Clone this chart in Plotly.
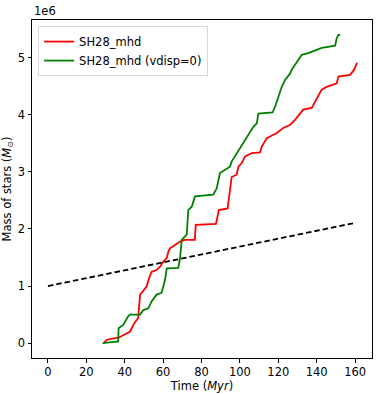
import plotly.graph_objects as go

# Red series: SH28_mhd (time in Myr, mass in units of 1e6 Msun)
red_t = [29, 30.7, 37, 40, 42.7, 45, 47, 48, 49.7, 51.4, 52.3, 54, 56.6, 58.4, 60.1, 61.9, 62.7, 63.6,
         66.2, 68.8, 71.4, 76.5, 77, 87.5, 88, 89, 93.6, 94.8, 95.7, 98.3, 99.2, 100.9, 102.7, 106.2,
         110.5, 111.3, 114, 115.7, 119.2, 122.6, 126, 128.7, 133, 137.4, 140, 142.6, 145.2, 150.4,
         151.3, 157.4, 159.5, 161]
red_m = [0, 0.06, 0.1, 0.15, 0.2, 0.35, 0.44, 0.85, 0.93, 0.99, 1.1, 1.25, 1.28, 1.34, 1.43, 1.49, 1.6, 1.66,
         1.72, 1.78, 1.81, 1.81, 2.07, 2.09, 2.16, 2.33, 2.36, 2.74, 2.91, 2.95, 3.09, 3.15, 3.27, 3.33,
         3.34, 3.44, 3.59, 3.62, 3.68, 3.77, 3.82, 3.91, 4.09, 4.12, 4.29, 4.44, 4.49, 4.55,
         4.67, 4.70, 4.79, 4.91]

# Green series: SH28_mhd (vdisp=0)
green_t = [28.5, 36.6, 36.8, 39.2, 41.8, 42.7, 48, 49.7, 52.3, 54, 56.6, 59.2, 61, 61.9, 67.9, 68.8, 69.7,
           71.4, 72.3, 73.1, 74.9, 76.6, 86.1, 87.9, 89.6, 94.8, 95.7, 107, 108.8, 109.6, 117, 118.3,
           120, 121.8, 123.5, 126.1, 127, 129.6, 132.2, 135.6, 138.2, 140.9, 142.6, 149.6, 150.4,
           151.3, 152.2]
green_m = [0, 0.03, 0.26, 0.32, 0.47, 0.5, 0.5, 0.58, 0.61, 0.73, 0.85, 0.88, 1.11, 1.31, 1.32, 1.49, 1.81,
           1.87, 1.90, 2.33, 2.39, 2.57, 2.6, 2.71, 2.98, 3.09, 3.18, 3.79, 3.85, 4.02, 4.04, 4.14,
           4.30, 4.49, 4.61, 4.72, 4.79, 4.93, 5.05, 5.08, 5.11, 5.14, 5.17, 5.21, 5.34,
           5.40, 5.40]

# Reference dashed line
ref_t = [0, 159]
ref_m = [1.0, 2.1]

scale = 1e6
x_ticks = [0, 20, 40, 60, 80, 100, 120, 140, 160]
y_ticks = [0, 1, 2, 3, 4, 5]
y_ticklabels = ["0", "1", "2", "3", "4", "5"]

fig = go.Figure()
fig.add_trace(go.Scatter(x=red_t, y=[v * scale for v in red_m], mode="lines",
                         line=dict(color="#ff0000", width=1.8), name="SH28_mhd"))
fig.add_trace(go.Scatter(x=green_t, y=[v * scale for v in green_m], mode="lines",
                         line=dict(color="#008000", width=1.8), name="SH28_mhd (vdisp=0)"))
fig.add_trace(go.Scatter(x=ref_t, y=[v * scale for v in ref_m], mode="lines",
                         line=dict(color="black", width=1.8, dash="5.5px,3px"), showlegend=False))

FS = 11.5
axis_common = dict(showline=True, linecolor="black", linewidth=1, mirror=True, showgrid=False,
                   zeroline=False, ticks="outside", ticklen=3.5, tickcolor="black",
                   tickfont=dict(size=FS, color="black"))

fig.update_layout(
    width=376, height=394,
    margin=dict(l=32, r=4, t=20, b=36),
    paper_bgcolor="white", plot_bgcolor="white",
    font=dict(family="DejaVu Sans", size=FS, color="black"),
    xaxis=dict(range=[-8.3, 168.8], tickvals=x_ticks,
               title=dict(text="Time (<i>Myr</i>)", font=dict(size=FS), standoff=2), **axis_common),
    yaxis=dict(range=[-0.26 * scale, 5.66 * scale], tickvals=[v * scale for v in y_ticks],
               ticktext=y_ticklabels,
               title=dict(text="Mass of stars (<i>M</i><sub>⊙</sub>)", font=dict(size=FS), standoff=4),
               **axis_common),
    legend=dict(x=0.018, y=0.982, xanchor="left", yanchor="top", bgcolor="white",
                bordercolor="#d9d9d9", borderwidth=1, font=dict(size=FS),
                tracegroupgap=0, itemwidth=30),
    annotations=[dict(text="1e6", xref="paper", yref="paper", x=0, y=1, xanchor="left",
                      yanchor="bottom", showarrow=False, font=dict(size=FS))],
)

# Remove the default 8px page margin so the figure sits at the window's top-left corner.
fig.write_html("out.html", config={"displayModeBar": False},
               post_script="document.body.style.margin='0px';")
